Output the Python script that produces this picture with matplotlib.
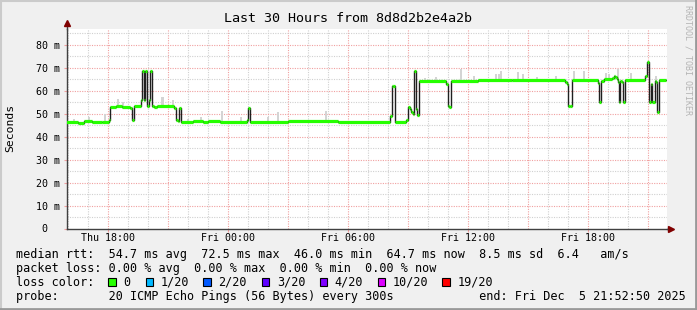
import numpy as np
import matplotlib
matplotlib.use('Agg')
import matplotlib.pyplot as plt
from matplotlib.patches import Rectangle
from matplotlib.lines import Line2D

# median rtt as steps: start hour (counted from Thu 00:00) -> value in ms
t_med = [15.88, 16.50, 16.80, 17.20, 17.70, 18.05, 18.10, 18.40, 18.70, 19.10,
         19.20, 19.28, 19.62, 19.68, 19.77, 19.85, 19.93, 20.02, 20.10, 20.18,
         20.27, 20.43, 21.30, 21.40, 21.47, 21.52, 21.63, 22.25, 22.75, 23.00,
         23.60, 24.93, 25.00, 25.08, 27.00, 29.50, 32.10, 32.17, 32.25, 32.33,
         32.90, 32.98, 33.07, 33.12, 33.22, 33.27, 33.37, 33.43, 33.52, 34.90,
         34.97, 35.05, 35.13, 36.50, 38.20, 40.85, 40.93, 40.98, 41.08, 41.17,
         42.48, 42.55, 42.62, 42.77, 43.18, 43.27, 43.35, 43.43, 43.48, 43.52,
         43.60, 43.68, 43.73, 43.82, 44.85, 44.95, 45.05, 45.12, 45.20, 45.33,
         45.40, 45.45, 45.52]
v_med = [46.5, 46.0, 46.8, 46.5, 46.3, 47.3, 53.0, 53.4, 53.0, 52.3,
         47.3, 53.1, 55.9, 68.4, 55.9, 68.6, 53.5, 55.9, 68.6, 53.2,
         52.8, 53.2, 52.5, 47.3, 46.8, 52.3, 46.2, 46.6, 46.2, 46.6,
         46.3, 47.0, 52.5, 46.3, 46.6, 46.4, 49.1, 62.2, 62.2, 46.5,
         47.2, 52.8, 52.0, 50.8, 49.8, 68.4, 52.0, 49.3, 64.3, 62.9,
         53.5, 53.0, 64.3, 64.6, 64.5, 63.8, 62.9, 53.5, 53.5, 64.6,
         63.2, 54.9, 64.2, 65.0, 65.5, 66.2, 66.0, 65.0, 63.8, 54.9,
         64.3, 63.8, 54.9, 64.6, 66.5, 72.5, 54.9, 62.9, 54.9, 64.3,
         63.8, 50.6, 64.7]
t_end = 45.88

# smoke (spread of the 20 pings): hour -> highest ping in ms
smoke_t = [16.25, 17.00, 17.80, 18.45, 18.70, 20.65, 20.72, 21.20, 21.95, 22.60,
           23.65, 24.60, 25.95, 26.45, 28.85, 33.80, 34.35, 35.60, 36.25, 37.35,
           37.50, 37.60, 38.45, 38.70, 39.40, 40.35, 41.25, 41.75, 42.85, 43.00,
           43.45, 44.10, 45.35]
smoke_top = [47.6, 48.7, 50.0, 56.4, 55.0, 57.4, 57.4, 56.0, 47.8, 48.5,
             50.9, 48.6, 48.3, 50.6, 51.3, 65.6, 66.0, 69.4, 66.4, 67.0,
             67.4, 68.3, 68.0, 67.0, 65.8, 66.4, 68.3, 68.7, 67.8, 67.4,
             69.4, 67.8, 66.4]

tick_hours = [18, 24, 30, 36, 42]
tick_labels = ['Thu 18:00', 'Fri 00:00', 'Fri 06:00', 'Fri 12:00', 'Fri 18:00']

loss_labels = ['0', '1/20', '2/20', '3/20', '4/20', '10/20', '19/20']
loss_colors = ['#26ff00', '#00b8ff', '#0059ff', '#5e00ff', '#7e00ff', '#dd00ff', '#ff0000']

W, H = 697, 310
mono = 'DejaVu Sans Mono'
plt.rcParams['font.family'] = mono

fig = plt.figure(figsize=(W / 100, H / 100), dpi=100, facecolor='#f0f0f0')

def fx(px):
    return px / W

def fy(py):
    return 1 - py / H

ax = fig.add_axes([fx(66.5), fy(228.5), 600 / W, 200 / H])
ax.set_facecolor('white')
ax.set_xlim(15.92, 45.92)
ax.set_ylim(0, 87)

# grid
for h in range(16, 46):
    col = '#f0a0a0' if h % 3 == 0 else '#d0d0d0'
    ax.axvline(h, color=col, lw=0.8, ls=(0, (1, 1.2)), zorder=0)
for v in range(5, 87, 5):
    col = '#f0a0a0' if v % 10 == 0 else '#d0d0d0'
    ax.axhline(v, color=col, lw=0.8, ls=(0, (1, 1.2)), zorder=0)

# smoke
t_arr = np.array(t_med)
v_arr = np.array(v_med)
idx = np.searchsorted(t_arr, smoke_t, side='right') - 1
base = v_arr[idx]
ax.bar(smoke_t, np.array(smoke_top) - base, bottom=base, width=1 / 12,
       align='edge', color='#d4d4d4', zorder=1)

# median line
t_edges = list(t_med) + [t_end]
ax.step(t_edges, list(v_med) + [v_med[-1]], where='post', color='#202020',
        lw=1.0, zorder=2)
ax.hlines(v_med, t_med, t_edges[1:], color=loss_colors[0], lw=2.3,
          capstyle='butt', zorder=3)

# axes and ticks
for s in ['top', 'right']:
    ax.spines[s].set_visible(False)
for s in ['left', 'bottom']:
    ax.spines[s].set_color('#404040')
    ax.spines[s].set_linewidth(1.0)
ax.set_xticks(tick_hours)
ax.set_xticklabels(tick_labels)
ax.set_yticks(range(0, 81, 10))
ax.set_yticklabels(['0  '] + ['%d m' % v for v in range(10, 81, 10)])
ax.tick_params(axis='both', length=2, width=0.8, color='#f0a0a0',
               labelsize=7.2, pad=3)
ax.tick_params(axis='x', pad=1.5)

# axis arrows
ax.plot([0, 0], [1, 1.03], transform=ax.transAxes, color='#404040', lw=1.0, clip_on=False)
ax.plot([1, 1.007], [0, 0], transform=ax.transAxes, color='#404040', lw=1.0, clip_on=False)
ax.plot(0, 1.03, marker='^', ms=4, color='#800000', transform=ax.transAxes, clip_on=False)
ax.plot(1.007, 0, marker='>', ms=4, color='#800000', transform=ax.transAxes, clip_on=False)

fig.text(fx(348), fy(19), 'Last 30 Hours from 8d8d2b2e4a2b', ha='center',
         va='center', size=9.6)
fig.text(fx(10), fy(128), 'Seconds', rotation=90, ha='center', va='center', size=8.2)
fig.text(fx(688), fy(5), 'RRDTOOL / TOBI OETIKER', rotation=270, ha='center',
         va='top', size=6, color='#b4b4b4')

rows = [
    'median rtt:  54.7 ms avg  72.5 ms max  46.0 ms min  64.7 ms now  8.5 ms sd  6.4   am/s',
    'packet loss: 0.00 % avg  0.00 % max  0.00 % min  0.00 % now',
    'loss color:',
    'probe:       20 ICMP Echo Pings (56 Bytes) every 300s            end: Fri Dec  5 21:52:50 2025',
]
for i, r in enumerate(rows):
    fig.text(fx(16), fy(254.3 + 14 * i), r, ha='left', va='center', size=8.5)

box_x = [108.3, 145.7, 203.3, 261.7, 319.5, 377.7, 442.3]
for bx, lab, c in zip(box_x, loss_labels, loss_colors):
    fig.patches.append(Rectangle((fx(bx), fy(286)), 7.5 / W, 8 / H,
                                 transform=fig.transFigure, facecolor=c,
                                 edgecolor='black', lw=0.8))
    fig.text(fx(bx + 15), fy(282.3), lab, ha='left', va='center', size=8.5)

# frame shading
fig.add_artist(Line2D([0, 1], [fy(0.5), fy(0.5)], color='#cbcbcb', lw=1.5))
fig.add_artist(Line2D([fx(0.5), fx(0.5)], [0, 1], color='#cbcbcb', lw=1.5))
fig.add_artist(Line2D([0, 1], [fy(309), fy(309)], color='#999999', lw=2))
fig.add_artist(Line2D([fx(696), fx(696)], [0, 1], color='#999999', lw=2))

fig.savefig('out.png', dpi=100, facecolor=fig.get_facecolor())
